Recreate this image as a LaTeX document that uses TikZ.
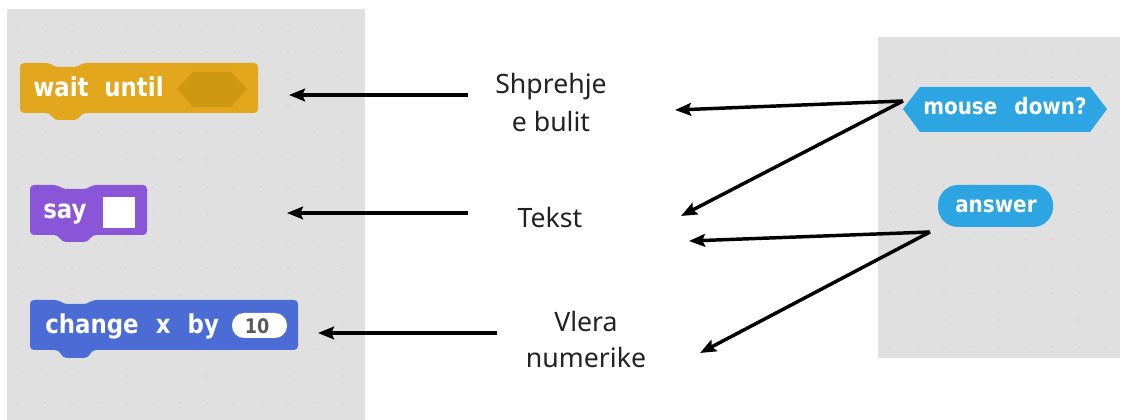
\documentclass[tikz,border=0pt]{standalone}
\usepackage{fontspec}
\setmainfont{Noto Sans}
\newfontfamily\blockfont{DejaVu Sans Bold}[FakeStretch=0.88]
\usetikzlibrary{arrows.meta}
\definecolor{panelgray}{HTML}{E0E0E0}
\definecolor{dotgray}{HTML}{D4D4D4}
\definecolor{ctrlgold}{HTML}{E3A71E}
\definecolor{slotgold}{HTML}{CF9812}
\definecolor{lookpurple}{HTML}{8A55D7}
\definecolor{motionblue}{HTML}{4A6CD4}
\definecolor{sensingblue}{HTML}{2CA5E2}
\definecolor{textdark}{HTML}{222222}

\begin{document}
\begin{tikzpicture}[x=0.75pt, y=-0.75pt,
  blocktext/.style={text=white, font=\blockfont\fontsize{19.5}{22}\selectfont, inner sep=0pt, anchor=base west},
  sensetext/.style={blocktext, font=\blockfont\fontsize{17}{19}\selectfont},
  desc/.style={font=\fontsize{20}{29}\selectfont, align=center, text=textdark, inner sep=0pt},
  arrow/.style={-{Stealth[length=12pt, width=9.5pt, inset=2pt]}, line width=2.6pt, color=black}
]
\useasboundingbox (0,0) rectangle (1129,420);

% palettes
\fill[panelgray] (7,9) rectangle (365,420);
\fill[panelgray] (878,37) rectangle (1120,358);
\foreach \x in {18,45,...,360}
  \foreach \y in {25,52,...,415}
    \fill[dotgray] (\x,\y) circle (1);
\foreach \x in {890,917,...,1115}
  \foreach \y in {50,77,...,350}
    \fill[dotgray] (\x,\y) circle (1);

% blocks
\fill[ctrlgold, rounded corners=3] (20,63) -- (50,63) -- (54,67) -- (78,67) -- (82,63) -- (258,63)
  -- (258,113) -- (82,113) -- (78,120) -- (54,120) -- (50,113) -- (20,113) -- cycle;
\fill[slotgold] (177,89) -- (193,72) -- (231,72) -- (247,89) -- (231,107) -- (193,107) -- cycle;
\node[blocktext] (wait) at (33,97) {wait\hspace{0.3em} until};

\fill[lookpurple, rounded corners=3] (30,185) -- (58,185) -- (62,189) -- (88,189) -- (92,185) -- (147,185)
  -- (147,235) -- (92,235) -- (88,242) -- (62,242) -- (58,235) -- (30,235) -- cycle;
\fill[white] (103,197) rectangle (135,228);
\node[blocktext] (say) at (43,219) {say};

\fill[motionblue, rounded corners=3] (30,300) -- (59,300) -- (63,304) -- (88,304) -- (92,300) -- (298,300)
  -- (298,350) -- (92,350) -- (88,358) -- (63,358) -- (59,350) -- (30,350) -- cycle;
\fill[white, rounded corners=9pt] (232,313) rectangle (287,338);
\node[blocktext] (change) at (45,334) {change\hspace{0.35em} x\hspace{0.35em} by};
\node[font=\blockfont\fontsize{15}{17}\selectfont, text=black!65, inner sep=0pt] (ten) at (257,326) {10};

\fill[sensingblue] (903,109) -- (920,87) -- (1090,87) -- (1107,109) -- (1090,132) -- (920,132) -- cycle;
\node[sensetext] (mouse) at (923,115) {mouse\hspace{0.45em} down?};

\fill[sensingblue, rounded corners=15pt] (938,185) rectangle (1053,227);
\node[sensetext] (answer) at (955,213) {answer};

% labels
\node[desc] (bool) at (551,102.5) {Shprehje\\e bulit};
\node[desc] (txt) at (550,218) {Tekst};
\node[desc, font=\fontsize{20}{27}\selectfont] (num) at (586,340) {Vlera\\numerike};

% arrow ends
\coordinate (boolfrom) at (468,95);
\coordinate (waittip) at (289,95);
\coordinate (txtfrom) at (468,213);
\coordinate (saytip) at (287,213);
\coordinate (numfrom) at (497,333);
\coordinate (changetip) at (318,333);
\coordinate (mousefrom) at (903,101);
\coordinate (answerfrom) at (930,232);
\coordinate (booltip) at (675,110);
\coordinate (txttip) at (681,216);
\coordinate (txttip2) at (689,241);
\coordinate (numtip) at (700,353);

\draw[arrow] (boolfrom) -- (waittip);
\draw[arrow] (txtfrom) -- (saytip);
\draw[arrow] (numfrom) -- (changetip);
\draw[arrow] (mousefrom) -- (booltip);
\draw[arrow] (mousefrom) -- (txttip);
\draw[arrow] (answerfrom) -- (txttip2);
\draw[arrow] (answerfrom) -- (numtip);
\end{tikzpicture}
\end{document}
